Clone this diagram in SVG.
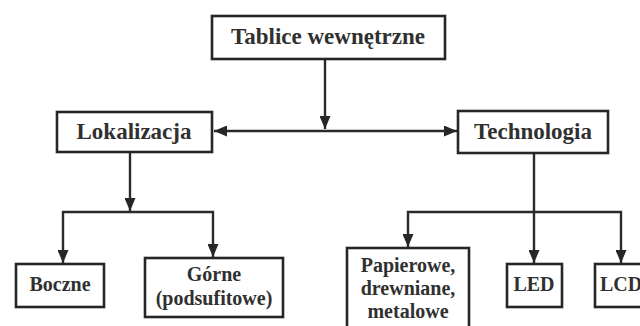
<svg xmlns="http://www.w3.org/2000/svg" width="640" height="326" viewBox="0 0 640 326">
<style>
.box{fill:#fff;stroke:#262626;stroke-width:2.6}
.c{fill:none;stroke:#2a2a2a;stroke-width:2.4}
text{font-family:"Liberation Serif","Times New Roman",serif;font-weight:bold;fill:#303030;text-anchor:middle}
.t1{font-size:23px}
.t2{font-size:20px}
</style>
<defs>
<marker id="ah" markerWidth="13" markerHeight="11" refX="13" refY="5.5" orient="auto" markerUnits="userSpaceOnUse">
<path d="M0,0 L13,5.5 L0,11 Z" fill="#262626"/>
</marker>
</defs>
<rect width="640" height="326" fill="#fff"/>
<g id="connectors">
<path class="c" d="M325,59 V129" marker-end="url(#ah)"/>
<path class="c" d="M325,131 H214" marker-end="url(#ah)"/>
<path class="c" d="M325,131 H457" marker-end="url(#ah)"/>
<path class="c" d="M130,152 V211" marker-end="url(#ah)"/>
<path class="c" d="M130,212 H63 V263" marker-end="url(#ah)"/>
<path class="c" d="M130,212 H213 V257" marker-end="url(#ah)"/>
<path class="c" d="M534,153 V263" marker-end="url(#ah)"/>
<path class="c" d="M534,212 H408 V247" marker-end="url(#ah)"/>
<path class="c" d="M534,212 H621 V263" marker-end="url(#ah)"/>
</g>
<g id="root">
<rect class="box" x="212" y="16" width="233" height="43"/>
<text class="t1" x="328" y="44">Tablice wewnętrzne</text>
</g>
<g id="lokalizacja">
<rect class="box" x="57" y="112" width="155" height="40"/>
<text class="t1" x="134" y="139">Lokalizacja</text>
</g>
<g id="technologia">
<rect class="box" x="458" y="111" width="150" height="42"/>
<text class="t1" x="533" y="139">Technologia</text>
</g>
<g id="boczne">
<rect class="box" x="16" y="264" width="88" height="43"/>
<text class="t2" x="60" y="291">Boczne</text>
</g>
<g id="gorne">
<rect class="box" x="145" y="258" width="138" height="59"/>
<text class="t2" x="214" y="281">Górne</text>
<text class="t2" x="214" y="305">(podsufitowe)</text>
</g>
<g id="papierowe">
<rect class="box" x="347" y="248" width="122" height="90"/>
<text class="t2" x="408" y="272">Papierowe,</text>
<text class="t2" x="408" y="295">drewniane,</text>
<text class="t2" x="408" y="318">metalowe</text>
</g>
<g id="led">
<rect class="box" x="507" y="264" width="55" height="43"/>
<text class="t2" x="534" y="291">LED</text>
</g>
<g id="lcd">
<rect class="box" x="595" y="264" width="60" height="43"/>
<text class="t2" x="600" y="291" style="text-anchor:start">LCD</text>
</g>
</svg>
